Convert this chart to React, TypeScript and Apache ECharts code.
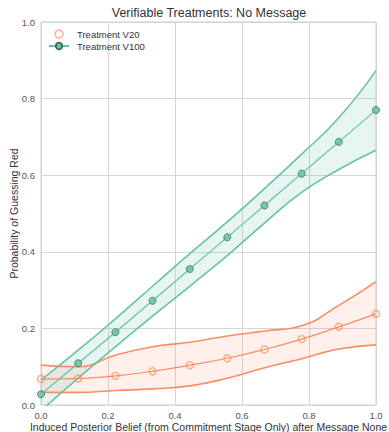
import React, { useEffect, useRef } from "react";
import * as echarts from "echarts";

const xVals = [0, 0.111, 0.222, 0.333, 0.444, 0.556, 0.667, 0.778, 0.889, 1.0];

const v20Mean = [0.068, 0.069, 0.076, 0.088, 0.104, 0.122, 0.145, 0.172, 0.204, 0.238];
const v20Upper = [0.104, 0.1, 0.13, 0.152, 0.164, 0.18, 0.193, 0.207, 0.26, 0.322];
const v20Lower = [0.033, 0.033, 0.038, 0.042, 0.05, 0.07, 0.097, 0.121, 0.146, 0.157];

const v100Mean = [0.028, 0.109, 0.19, 0.272, 0.355, 0.438, 0.521, 0.604, 0.687, 0.77];
const v100Upper = [0.065, 0.143, 0.225, 0.31, 0.395, 0.478, 0.565, 0.655, 0.75, 0.873];
const v100Lower = [-0.015, 0.07, 0.152, 0.232, 0.31, 0.39, 0.475, 0.555, 0.615, 0.665];

const xTicks = [0, 0.2, 0.4, 0.6, 0.8, 1.0];

const ORANGE = "#fc8d62";
const GREEN = "#66c2a5";
const FONT = "'Liberation Sans', Arial, sans-serif";

const pairs = (ys: number[]) => xVals.map((x, i) => [x, ys[i]]);

// Catmull-Rom sampling of pixel points, for drawing a smooth band outline
function spline(pts: number[][], steps = 12): number[][] {
  const out: number[][] = [];
  for (let i = 0; i < pts.length - 1; i++) {
    const p0 = pts[Math.max(0, i - 1)];
    const p1 = pts[i];
    const p2 = pts[i + 1];
    const p3 = pts[Math.min(pts.length - 1, i + 2)];
    for (let s = 0; s < steps; s++) {
      const t = s / steps;
      const t2 = t * t;
      const t3 = t2 * t;
      const f = (a: number, b: number, c: number, d: number) =>
        0.5 * (2 * b + (-a + c) * t + (2 * a - 5 * b + 4 * c - d) * t2 + (-a + 3 * b - 3 * c + d) * t3);
      out.push([f(p0[0], p1[0], p2[0], p3[0]), f(p0[1], p1[1], p2[1], p3[1])]);
    }
  }
  out.push(pts[pts.length - 1]);
  return out;
}

export default function App() {
  const ref = useRef<HTMLDivElement>(null);
  useEffect(() => {
    if (!ref.current) return;
    const chart = echarts.init(ref.current, undefined, { renderer: "svg" });
    const band = (name: string, lo: number[], hi: number[], color: string, op: number) => ({
      name,
      type: "custom",
      coordinateSystem: "cartesian2d",
      silent: true,
      data: xVals.map((x, i) => [x, lo[i], hi[i]]),
      encode: { x: 0, y: [1, 2] },
      renderItem: (params: any, api: any) => {
        if (params.dataIndex !== 0) return null;
        const yMax = api.coord([0, 0])[1];
        const up = spline(xVals.map((x, i) => api.coord([x, hi[i]])));
        const dn = spline(xVals.map((x, i) => api.coord([x, lo[i]])));
        const poly = up.concat(dn.reverse()).map((p) => [p[0], Math.min(p[1], yMax)]);
        return {
          type: "polygon",
          shape: { points: poly },
          style: { fill: color, opacity: op },
        };
      },
    });
    const ciLine = (name: string, ys: number[], color: string) => ({
      name,
      type: "line",
      data: pairs(ys),
      smooth: true,
      symbol: "none",
      lineStyle: { color, width: 1.6 },
      silent: true,
    });
    chart.setOption({
      animation: false,
      backgroundColor: "#ffffff",
      title: {
        text: "Verifiable Treatments: No Message",
        left: 204,
        textAlign: "center",
        top: 1,
        textStyle: { fontFamily: FONT, fontSize: 12.5, fontWeight: "normal", color: "#333" },
      },
      legend: {
        left: 43,
        top: 24,
        orient: "vertical",
        itemWidth: 20,
        itemHeight: 8,
        itemGap: 2,
        textStyle: { fontFamily: FONT, fontSize: 9.5, color: "#333", padding: [0, 0, 0, 3] },
        data: [
          {
            name: "Treatment V20",
            icon: "circle",
            itemStyle: { color: "rgba(0,0,0,0)", borderColor: "rgba(252,141,98,0.7)", borderWidth: 1.5 },
          },
          { name: "Treatment V100" },
        ],
      },
      grid: {
        left: 41,
        right: 13,
        top: 22,
        bottom: 27,
        show: true,
        borderColor: "#cccccc",
        borderWidth: 1,
        outerBoundsMode: "none",
        containLabel: false,
      },
      xAxis: {
        type: "value",
        min: 0,
        max: 1,
        interval: 0.2,
        name: "Induced Posterior Belief (from Commitment Stage Only) after Message None",
        nameLocation: "middle",
        nameGap: 16,
        nameMoveOverlap: false,
        nameTextStyle: { fontFamily: FONT, fontSize: 10.5, color: "#333", lineHeight: 11 },
        axisLine: { show: false },
        axisTick: { show: false },
        axisLabel: {
          fontFamily: FONT,
          fontSize: 9.5,
          lineHeight: 10,
          color: "#555",
          margin: 5,
          formatter: (v: number) => v.toFixed(1),
          customValues: xTicks,
        },
        splitLine: { lineStyle: { color: "#d5d5d5", width: 1 } },
      },
      yAxis: {
        type: "value",
        min: 0,
        max: 1,
        interval: 0.2,
        name: "Probability of Guessing Red",
        nameLocation: "middle",
        nameGap: 22,
        nameMoveOverlap: false,
        nameTextStyle: { fontFamily: FONT, fontSize: 10.5, color: "#333" },
        axisLine: { show: false },
        axisTick: { show: false },
        axisLabel: {
          fontFamily: FONT,
          fontSize: 9.5,
          color: "#555",
          margin: 6,
          formatter: (v: number) => v.toFixed(1),
        },
        splitLine: { lineStyle: { color: "#d5d5d5", width: 1 } },
      },
      series: [
        band("v20_band", v20Lower, v20Upper, ORANGE, 0.13),
        band("v100_band", v100Lower, v100Upper, GREEN, 0.16),
        ciLine("v20_up", v20Upper, ORANGE),
        ciLine("v20_dn", v20Lower, ORANGE),
        {
          name: "Treatment V20",
          type: "line",
          data: pairs(v20Mean),
          smooth: true,
          symbol: "circle",
          symbolSize: 7,
          lineStyle: { color: ORANGE, width: 1.2 },
          itemStyle: { color: "rgba(0,0,0,0)", borderColor: "rgba(252,141,98,0.75)", borderWidth: 1.4 },
        },
        ciLine("v100_up", v100Upper, GREEN),
        ciLine("v100_dn", v100Lower, GREEN),
        {
          name: "Treatment V100",
          type: "line",
          data: pairs(v100Mean),
          smooth: true,
          symbol: "circle",
          symbolSize: 7,
          lineStyle: { color: GREEN, width: 1.2 },
          itemStyle: { color: "rgba(102,194,165,0.85)", borderColor: "#3f6f5e", borderWidth: 0.8 },
        },
      ],
    });
    return () => chart.dispose();
  }, []);
  return <div ref={ref} style={{ width: 389, height: 432, position: "absolute", left: 0, top: 0 }} />;
}
